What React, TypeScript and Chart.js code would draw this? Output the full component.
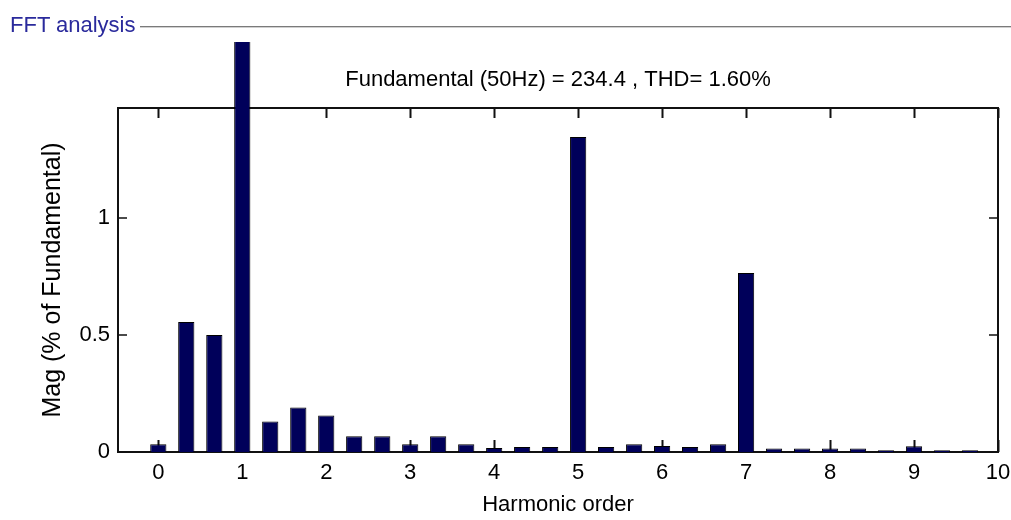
import React, { useEffect, useRef } from 'react';
import { Chart, registerables } from 'chart.js';

Chart.register(...registerables);

// ---- data ----
const HARMONIC_ORDERS = [
  0, 0.333, 0.667, 1, 1.333, 1.667, 2, 2.333, 2.667, 3,
  3.333, 3.667, 4, 4.333, 4.667, 5, 5.333, 5.667, 6, 6.333,
  6.667, 7, 7.333, 7.667, 8, 8.333, 8.667, 9, 9.333, 9.667,
];
const MAGNITUDES = [
  0.033, 0.556, 0.5, 100, 0.13, 0.19, 0.156, 0.067, 0.067, 0.033,
  0.067, 0.033, 0.017, 0.021, 0.021, 1.346, 0.021, 0.033, 0.026, 0.021,
  0.033, 0.765, 0.015, 0.015, 0.015, 0.015, 0.008, 0.025, 0.008, 0.008,
];
const X_TICKS = [0, 1, 2, 3, 4, 5, 6, 7, 8, 9, 10];
const X_TICK_LABELS = ['0', '1', '2', '3', '4', '5', '6', '7', '8', '9', '10'];
const Y_TICKS = [0, 0.5, 1];
const Y_TICK_LABELS = ['0', '0.5', '1'];
const X_RANGE = [-0.48, 10];
const Y_RANGE = [0, 1.47];
const PANEL_TITLE = 'FFT analysis';
const CHART_TITLE = 'Fundamental (50Hz) = 234.4 , THD= 1.60%';
const X_LABEL = 'Harmonic order';
const Y_LABEL = 'Mag (% of Fundamental)';

const FONT = '"Liberation Sans", Arial, Helvetica, sans-serif';

const axesBox = {
  id: 'axesBox',
  beforeDatasetsDraw(chart: any) {
    const { ctx, chartArea: a, scales } = chart;
    ctx.save();
    ctx.strokeStyle = '#111';
    ctx.lineWidth = 2;
    ctx.beginPath();
    ctx.rect(a.left, a.top, a.right - a.left, a.bottom - a.top);
    for (const t of scales.x.ticks) {
      const px = Math.round(scales.x.getPixelForValue(t.value)) + 0.5;
      ctx.moveTo(px, a.bottom);
      ctx.lineTo(px, a.bottom - 12);
      ctx.moveTo(px, a.top);
      ctx.lineTo(px, a.top + 10);
    }
    ctx.stroke();
    ctx.beginPath();
    ctx.lineWidth = 1.5;
    for (const t of scales.y.ticks) {
      const py = Math.round(scales.y.getPixelForValue(t.value));
      ctx.moveTo(a.left, py);
      ctx.lineTo(a.left + 9, py);
      ctx.moveTo(a.right, py);
      ctx.lineTo(a.right - 9, py);
    }
    ctx.stroke();
    ctx.restore();
  },
};

export default function App() {
  const canvasRef = useRef<HTMLCanvasElement | null>(null);

  useEffect(() => {
    document.body.style.margin = '0';
    const canvas = canvasRef.current;
    if (!canvas) return;
    const chart = new Chart(canvas, {
      type: 'bar',
      data: {
        datasets: [
          {
            data: HARMONIC_ORDERS.map((x, i) => ({ x, y: MAGNITUDES[i] })),
            backgroundColor: '#00005a',
            borderColor: '#000000',
            borderWidth: 1,
            barPercentage: 0.58,
            categoryPercentage: 1,
            clip: { left: 0, top: 66, right: 0, bottom: 0 },
          } as any,
        ],
      },
      options: {
        animation: false,
        responsive: false,
        devicePixelRatio: 1,
        layout: { padding: { left: 0, right: 13, top: 0, bottom: 0 } },
        plugins: {
          legend: { display: false },
          tooltip: { enabled: false },
          title: {
            display: true,
            text: CHART_TITLE,
            color: '#000',
            fullSize: false,
            font: { family: FONT, size: 22, weight: 'normal' },
            padding: { top: 67, bottom: 14.6 },
          },
        },
        scales: {
          x: {
            type: 'linear',
            min: X_RANGE[0],
            max: X_RANGE[1],
            offset: false,
            grid: { display: false, drawTicks: false },
            border: { display: false },
            afterBuildTicks: (s: any) => {
              s.ticks = X_TICKS.map((v) => ({ value: v }));
            },
            afterFit: (s: any) => {
              s.height = 68;
              s.paddingLeft = 0;
              s.paddingRight = 0;
            },
            ticks: {
              color: '#000',
              font: { family: FONT, size: 22 },
              padding: 8,
              maxRotation: 0,
              autoSkip: false,
              callback: (v: any) => X_TICK_LABELS[X_TICKS.indexOf(Number(v))] ?? '',
            },
            title: {
              display: true,
              text: X_LABEL,
              color: '#000',
              font: { family: FONT, size: 22 },
              padding: { top: 0, bottom: 2 },
            },
          },
          y: {
            type: 'linear',
            min: Y_RANGE[0],
            max: Y_RANGE[1],
            grid: { display: false, drawTicks: false },
            border: { display: false },
            afterBuildTicks: (s: any) => {
              s.ticks = Y_TICKS.map((v) => ({ value: v }));
            },
            afterFit: (s: any) => {
              s.width = 118;
              s.paddingTop = 0;
              s.paddingBottom = 0;
            },
            ticks: {
              color: '#000',
              font: { family: FONT, size: 22 },
              padding: 8,
              callback: (v: any) => Y_TICK_LABELS[Y_TICKS.indexOf(Number(v))] ?? '',
            },
            title: {
              display: true,
              text: Y_LABEL,
              color: '#000',
              font: { family: FONT, size: 25 },
              padding: { top: 38, bottom: 0 },
            },
          },
        },
      },
      plugins: [axesBox],
    });
    return () => chart.destroy();
  }, []);

  return (
    <div style={{ position: 'relative', width: 1011, height: 520, background: '#fff', overflow: 'hidden' }}>
      <canvas ref={canvasRef} width={1011} height={520} style={{ position: 'absolute', left: 0, top: 0 }} />
      <div style={{ position: 'absolute', left: 140, right: 0, top: 26, height: 1, background: '#7a7a7a' }} />
      <div style={{ position: 'absolute', left: 140, right: 0, top: 27, height: 1, background: '#d0d0d0' }} />
      <div
        style={{
          position: 'absolute',
          left: 10,
          top: 13,
          fontFamily: FONT,
          fontSize: 22,
          lineHeight: '24px',
          color: '#2a2a9c',
          whiteSpace: 'nowrap',
        }}
      >
        {PANEL_TITLE}
      </div>
    </div>
  );
}
